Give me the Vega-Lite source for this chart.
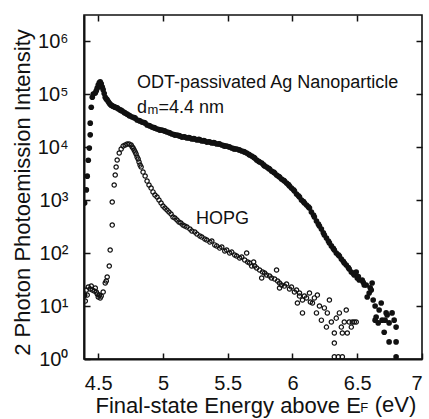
{
  "$schema": "https://vega.github.io/schema/vega-lite/v6.json",
  "width": 338,
  "height": 344,
  "autosize": {"type": "none"},
  "padding": {"left": 84, "top": 15, "right": 7, "bottom": 60},
  "background": "white",
  "config": {
    "view": {"stroke": "#111", "strokeWidth": 1.6},
    "font": "Liberation Sans",
    "axis": {"grid": false, "labelColor": "#111", "titleColor": "#111", "tickColor": "#111", "domainColor": "#111", "labelFont": "Liberation Sans", "titleFont": "Liberation Sans", "titleFontWeight": "normal"}
  },
  "datasets": {
    "ag": [
      {"x":4.395,"y":16},{"x":4.395,"y":880},{"x":4.408,"y":1550},{"x":4.415,"y":2820},{"x":4.423,"y":5620},{"x":4.431,"y":9550},{"x":4.438,"y":17000},{"x":4.438,"y":28200},{"x":4.446,"y":56200},{"x":4.454,"y":87100},{"x":4.462,"y":100000},{"x":4.477,"y":105000},{"x":4.485,"y":115000},{"x":4.492,"y":129000},{"x":4.5,"y":148000},{"x":4.508,"y":162000},{"x":4.515,"y":170000},{"x":4.523,"y":155000},{"x":4.531,"y":135000},{"x":4.538,"y":120000},{"x":4.546,"y":102000},{"x":4.554,"y":87100},{"x":4.562,"y":81000},{"x":4.569,"y":77600},{"x":4.577,"y":72000},{"x":4.585,"y":67600},{"x":4.592,"y":64000},{"x":4.6,"y":61700},{"x":4.608,"y":60000},{"x":4.615,"y":58900},{"x":4.623,"y":57500},{"x":4.631,"y":56200},{"x":4.638,"y":55600},{"x":4.646,"y":55000},{"x":4.654,"y":52500},{"x":4.669,"y":50100},{"x":4.677,"y":49000},{"x":4.685,"y":47900},{"x":4.7,"y":45000},{"x":4.708,"y":43700},{"x":4.723,"y":41700},{"x":4.738,"y":39500},{"x":4.746,"y":38500},{"x":4.762,"y":36800},{"x":4.777,"y":35800},{"x":4.785,"y":35200},{"x":4.8,"y":32300},{"x":4.815,"y":31500},{"x":4.823,"y":31000},{"x":4.838,"y":29600},{"x":4.854,"y":28900},{"x":4.862,"y":28400},{"x":4.877,"y":26000},{"x":4.892,"y":25500},{"x":4.9,"y":24900},{"x":4.915,"y":23800},{"x":4.931,"y":23200},{"x":4.938,"y":22800},{"x":4.954,"y":21900},{"x":4.969,"y":21300},{"x":4.977,"y":20900},{"x":4.992,"y":20900},{"x":5.008,"y":20300},{"x":5.015,"y":20000},{"x":5.031,"y":19200},{"x":5.046,"y":18800},{"x":5.054,"y":18400},{"x":5.069,"y":17600},{"x":5.085,"y":17200},{"x":5.092,"y":16800},{"x":5.108,"y":16800},{"x":5.123,"y":16400},{"x":5.131,"y":16100},{"x":5.146,"y":15400},{"x":5.162,"y":15600},{"x":5.169,"y":15400},{"x":5.185,"y":14800},{"x":5.2,"y":15000},{"x":5.208,"y":14800},{"x":5.223,"y":14200},{"x":5.238,"y":14400},{"x":5.246,"y":14200},{"x":5.262,"y":13600},{"x":5.277,"y":13900},{"x":5.285,"y":13600},{"x":5.3,"y":13000},{"x":5.315,"y":13200},{"x":5.323,"y":13000},{"x":5.338,"y":12400},{"x":5.354,"y":12600},{"x":5.362,"y":12400},{"x":5.377,"y":11900},{"x":5.392,"y":12100},{"x":5.4,"y":11900},{"x":5.415,"y":11400},{"x":5.431,"y":11500},{"x":5.438,"y":11400},{"x":5.454,"y":10900},{"x":5.469,"y":10600},{"x":5.477,"y":10400},{"x":5.492,"y":10400},{"x":5.508,"y":10100},{"x":5.515,"y":10000},{"x":5.531,"y":9570},{"x":5.546,"y":9300},{"x":5.554,"y":9170},{"x":5.569,"y":9170},{"x":5.585,"y":8900},{"x":5.592,"y":8780},{"x":5.608,"y":8410},{"x":5.623,"y":8200},{"x":5.631,"y":8050},{"x":5.646,"y":7710},{"x":5.662,"y":7300},{"x":5.669,"y":7060},{"x":5.685,"y":6760},{"x":5.7,"y":6400},{"x":5.708,"y":6200},{"x":5.723,"y":5690},{"x":5.738,"y":5400},{"x":5.746,"y":5210},{"x":5.762,"y":4990},{"x":5.777,"y":4600},{"x":5.785,"y":4380},{"x":5.8,"y":4200},{"x":5.815,"y":3950},{"x":5.823,"y":3850},{"x":5.838,"y":3520},{"x":5.854,"y":3350},{"x":5.862,"y":3230},{"x":5.877,"y":2960},{"x":5.892,"y":2800},{"x":5.9,"y":2720},{"x":5.915,"y":2490},{"x":5.931,"y":2350},{"x":5.938,"y":2280},{"x":5.954,"y":2090},{"x":5.969,"y":1950},{"x":5.977,"y":1840},{"x":5.992,"y":1680},{"x":6.008,"y":1560},{"x":6.015,"y":1480},{"x":6.031,"y":1300},{"x":6.046,"y":1200},{"x":6.054,"y":1140},{"x":6.069,"y":1000},{"x":6.085,"y":930},{"x":6.092,"y":877},{"x":6.108,"y":805},{"x":6.123,"y":740},{"x":6.131,"y":706},{"x":6.146,"y":594},{"x":6.162,"y":520},{"x":6.169,"y":478},{"x":6.185,"y":402},{"x":6.2,"y":350},{"x":6.208,"y":323},{"x":6.223,"y":284},{"x":6.238,"y":240},{"x":6.246,"y":219},{"x":6.262,"y":192},{"x":6.277,"y":168},{"x":6.285,"y":155},{"x":6.3,"y":136},{"x":6.315,"y":122},{"x":6.323,"y":114},{"x":6.338,"y":100},{"x":6.354,"y":92},{"x":6.362,"y":87.8},{"x":6.377,"y":77.1},{"x":6.392,"y":70},{"x":6.4,"y":64.7},{"x":6.415,"y":59.4},{"x":6.431,"y":53},{"x":6.438,"y":49.9},{"x":6.454,"y":43.8},{"x":6.469,"y":41},{"x":6.477,"y":38.5},{"x":6.492,"y":43.8},{"x":6.5,"y":33.7},{"x":6.508,"y":36},{"x":6.515,"y":31},{"x":6.538,"y":31},{"x":6.546,"y":28},{"x":6.554,"y":24.9},{"x":6.569,"y":24.9},{"x":6.577,"y":14.8},{"x":6.592,"y":17.6},{"x":6.6,"y":22},{"x":6.608,"y":20},{"x":6.615,"y":27.2},{"x":6.623,"y":13},{"x":6.638,"y":10},{"x":6.638,"y":5.4},{"x":6.646,"y":6.2},{"x":6.662,"y":4.8},{"x":6.669,"y":8.4},{"x":6.685,"y":11.4},{"x":6.692,"y":5.4},{"x":6.708,"y":3.2},{"x":6.715,"y":5.4},{"x":6.723,"y":7.4},{"x":6.731,"y":6.8},{"x":6.746,"y":4.8},{"x":6.746,"y":2.1},{"x":6.769,"y":7.4},{"x":6.785,"y":5.4},{"x":6.8,"y":4},{"x":6.8,"y":2.1},{"x":6.8,"y":1.1}
    ],
    "hopg": [
      {"x":4.4,"y":12.4},{"x":4.408,"y":20},{"x":4.415,"y":16.1},{"x":4.423,"y":22.8},{"x":4.438,"y":20.9},{"x":4.446,"y":23.8},{"x":4.454,"y":20},{"x":4.469,"y":19.2},{"x":4.477,"y":21.9},{"x":4.485,"y":18.4},{"x":4.492,"y":16.8},{"x":4.5,"y":14.8},{"x":4.508,"y":16.1},{"x":4.515,"y":14.2},{"x":4.523,"y":15.4},{"x":4.538,"y":18.4},{"x":4.554,"y":27.2},{"x":4.562,"y":29.6},{"x":4.569,"y":35.2},{"x":4.585,"y":56.9},{"x":4.592,"y":114},{"x":4.608,"y":337},{"x":4.608,"y":917},{"x":4.623,"y":1920},{"x":4.631,"y":2960},{"x":4.638,"y":4200},{"x":4.646,"y":5690},{"x":4.662,"y":7710},{"x":4.677,"y":9170},{"x":4.692,"y":10400},{"x":4.708,"y":10900},{"x":4.723,"y":11400},{"x":4.738,"y":11400},{"x":4.754,"y":10900},{"x":4.762,"y":10000},{"x":4.769,"y":9570},{"x":4.777,"y":8780},{"x":4.785,"y":8050},{"x":4.792,"y":7380},{"x":4.8,"y":6470},{"x":4.808,"y":5940},{"x":4.815,"y":5210},{"x":4.823,"y":4570},{"x":4.831,"y":4200},{"x":4.846,"y":3370},{"x":4.862,"y":2840},{"x":4.877,"y":2280},{"x":4.892,"y":1920},{"x":4.908,"y":1680},{"x":4.923,"y":1420},{"x":4.938,"y":1240},{"x":4.954,"y":1140},{"x":4.969,"y":1000},{"x":4.985,"y":877},{"x":5.0,"y":771},{"x":5.015,"y":706},{"x":5.031,"y":647},{"x":5.046,"y":594},{"x":5.062,"y":545},{"x":5.077,"y":478},{"x":5.092,"y":457},{"x":5.108,"y":420},{"x":5.123,"y":385},{"x":5.138,"y":368},{"x":5.154,"y":337},{"x":5.169,"y":323},{"x":5.185,"y":310},{"x":5.208,"y":284},{"x":5.223,"y":260},{"x":5.246,"y":249},{"x":5.262,"y":228},{"x":5.285,"y":209},{"x":5.3,"y":200},{"x":5.323,"y":184},{"x":5.338,"y":176},{"x":5.362,"y":161},{"x":5.377,"y":168},{"x":5.4,"y":142},{"x":5.415,"y":136},{"x":5.438,"y":124},{"x":5.454,"y":130},{"x":5.477,"y":109},{"x":5.492,"y":114},{"x":5.515,"y":100},{"x":5.531,"y":104},{"x":5.554,"y":91.7},{"x":5.569,"y":87.8},{"x":5.592,"y":80.5},{"x":5.608,"y":84.1},{"x":5.631,"y":73.8},{"x":5.646,"y":100},{"x":5.654,"y":67.6},{"x":5.669,"y":64.7},{"x":5.685,"y":56.9},{"x":5.7,"y":67.6},{"x":5.708,"y":56.9},{"x":5.723,"y":52.1},{"x":5.746,"y":47.8},{"x":5.762,"y":33.7},{"x":5.769,"y":43.8},{"x":5.785,"y":42},{"x":5.8,"y":38.5},{"x":5.823,"y":36.8},{"x":5.838,"y":33.7},{"x":5.862,"y":32.3},{"x":5.877,"y":47.8},{"x":5.885,"y":29.6},{"x":5.9,"y":27.2},{"x":5.9,"y":21.9},{"x":5.915,"y":24.9},{"x":5.938,"y":23.8},{"x":5.954,"y":26},{"x":5.977,"y":20.9},{"x":5.992,"y":22.8},{"x":6.015,"y":18.4},{"x":6.031,"y":20},{"x":6.038,"y":11.4},{"x":6.054,"y":15.4},{"x":6.054,"y":17.6},{"x":6.077,"y":13},{"x":6.077,"y":7.4},{"x":6.092,"y":15.4},{"x":6.108,"y":14.2},{"x":6.131,"y":17.6},{"x":6.138,"y":11.9},{"x":6.154,"y":11.4},{"x":6.169,"y":14.2},{"x":6.185,"y":7.4},{"x":6.192,"y":16.1},{"x":6.208,"y":10},{"x":6.223,"y":5.4},{"x":6.246,"y":9.2},{"x":6.262,"y":4},{"x":6.269,"y":7.4},{"x":6.285,"y":13},{"x":6.3,"y":5},{"x":6.323,"y":3.1},{"x":6.323,"y":2},{"x":6.338,"y":5.9},{"x":6.362,"y":7.4},{"x":6.377,"y":4},{"x":6.385,"y":3.1},{"x":6.4,"y":5},{"x":6.415,"y":8.4},{"x":6.423,"y":3.1},{"x":6.438,"y":5},{"x":6.454,"y":4},{"x":6.462,"y":5},{"x":6.477,"y":5},{"x":6.492,"y":5},{"x":6.323,"y":1.1},{"x":6.354,"y":1.1},{"x":6.385,"y":1.1}
    ],
    "labels": [
      {"x":4.8,"y":129700,"text":"ODT-passivated Ag Nanoparticle"},
      {"x":4.8,"y":43800,"text":"d"},
      {"x":4.965,"y":43800,"text":"=4.4 nm"},
      {"x":5.254,"y":352,"text":"HOPG"}
    ],
    "subs": [
      {"x":4.881,"y":42500,"text":"m"},
      {"x":6.523,"y":0.1,"text":"F"}
    ],
    "unit": [
      {"x":6.635,"y":0.1,"text":"(eV)"}
    ]
  },
  "layer": [
    {
      "data": {"name": "ag"},
      "mark": {"type": "point", "filled": true, "shape": "circle", "size": 32, "color": "#111", "opacity": 1, "clip": true},
      "encoding": {
        "x": {"field": "x", "type": "quantitative",
              "scale": {"domain": [4.39, 7.0], "nice": false, "zero": false},
              "axis": {"orient": "bottom", "values": [4.5, 5, 5.5, 6, 6.5, 7], "format": "~g", "tickSize": -6, "tickWidth": 1.5, "labelPadding": 20, "labelFontSize": 20, "domainWidth": 2,
                       "title": "Final-state Energy above E", "titleFontSize": 22, "titleAlign": "left", "titleAnchor": "start", "titleBaseline": "alphabetic", "titleX": 11, "titleY": 53}},
        "y": {"field": "y", "type": "quantitative",
              "scale": {"type": "log", "domain": [1, 3100000], "nice": false},
              "axis": {"orient": "left", "values": [1, 10, 100, 1000, 10000, 100000, 1000000], "tickSize": -6, "tickWidth": 1.5, "labelPadding": 22, "labelFontSize": 20, "domainWidth": 2,
                       "labelExpr": "'10' + ['⁰','¹','²','³','⁴','⁵','⁶'][round(log(datum.value)/LN10)]",
                       "title": "2 Photon Photoemission Intensity", "titleFontSize": 22, "titleBaseline": "alphabetic", "titleX": -55, "titleY": 177}}
      }
    },
    {
      "data": {"name": "hopg"},
      "mark": {"type": "point", "filled": false, "shape": "circle", "size": 19, "strokeWidth": 1.2, "color": "#111", "opacity": 1, "clip": true},
      "encoding": {
        "x": {"field": "x", "type": "quantitative",
              "axis": {"orient": "top", "values": [4.5, 5, 5.5, 6, 6.5], "labels": false, "title": null, "domain": false, "tickSize": -6, "tickWidth": 1.5}},
        "y": {"field": "y", "type": "quantitative",
              "axis": {"orient": "right", "values": [10, 100, 1000, 10000, 100000, 1000000], "labels": false, "title": null, "domain": false, "tickSize": -6, "tickWidth": 1.5}}
      }
    },
    {
      "data": {"name": "labels"},
      "mark": {"type": "text", "align": "left", "baseline": "alphabetic", "fontSize": 18, "font": "Liberation Sans", "color": "#111"},
      "encoding": {
        "x": {"field": "x", "type": "quantitative", "axis": null},
        "y": {"field": "y", "type": "quantitative", "axis": null},
        "text": {"field": "text"}
      }
    },
    {
      "data": {"name": "subs"},
      "mark": {"type": "text", "align": "left", "baseline": "alphabetic", "fontSize": 13, "font": "Liberation Sans", "color": "#111"},
      "encoding": {
        "x": {"field": "x", "type": "quantitative", "axis": null},
        "y": {"field": "y", "type": "quantitative", "axis": null},
        "text": {"field": "text"}
      }
    },
    {
      "data": {"name": "unit"},
      "mark": {"type": "text", "align": "left", "baseline": "alphabetic", "fontSize": 22, "font": "Liberation Sans", "color": "#111"},
      "encoding": {
        "x": {"field": "x", "type": "quantitative", "axis": null},
        "y": {"field": "y", "type": "quantitative", "axis": null},
        "text": {"field": "text"}
      }
    }
  ],
  "resolve": {"axis": {"x": "independent", "y": "independent"}}
}
